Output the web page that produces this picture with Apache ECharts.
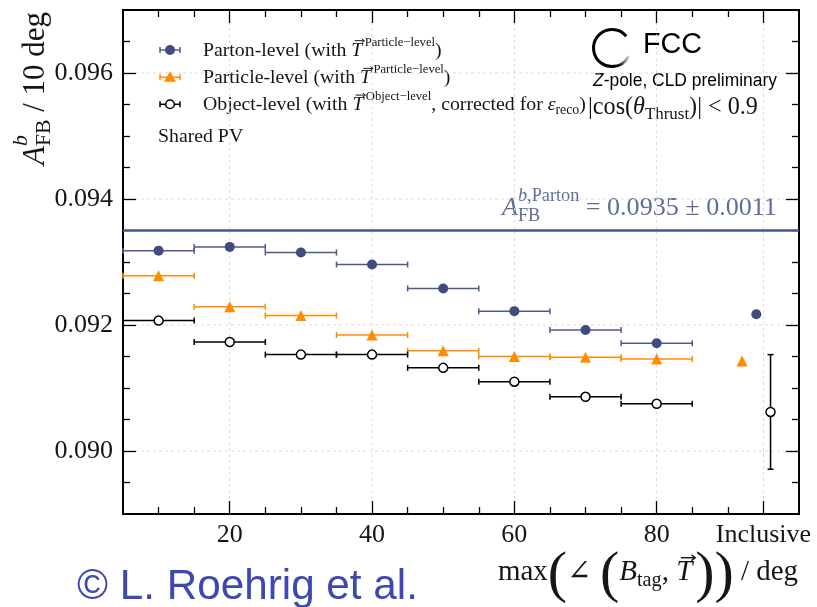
<!DOCTYPE html>
<html><head><meta charset="utf-8">
<script src="https://cdn.jsdelivr.net/npm/echarts@6/dist/echarts.min.js"></script>
<style>html,body{margin:0;padding:0;background:#fff}#c{width:817px;height:607px}</style>
</head><body><div id="c"></div>
<script>
// ---------------- data ----------------
const binCenters = [10, 20, 30, 40, 50, 60, 70, 80];
const binHalfWidths = [5, 5, 5, 5, 5, 5, 5, 5];
const partonValues = [0.09318, 0.09324, 0.09315, 0.09296, 0.09258, 0.09222, 0.09192, 0.09171];
const particleValues = [0.09278, 0.09229, 0.09215, 0.09184, 0.09159, 0.09150, 0.09149, 0.09146];
const objectValues = [0.09207, 0.09173, 0.09153, 0.09153, 0.09132, 0.09110, 0.09086, 0.09075];
// inclusive points: parton, particle, object
const inclusivePositions = [94, 92, 96];
const inclusiveValues = [0.09217, 0.09143, 0.09062];
const inclusiveErrors = [0, 0, 0.00091];
const partonReference = 0.0935;
const partonReferenceError = 0.0011;
const xMajorTicks = [20, 40, 60, 80, 95];
const xTickLabels = ['20', '40', '60', '80', 'Inclusive'];
const xMinorTicks = [10, 15, 25, 30, 35, 45, 50, 55, 65, 70, 75, 85, 90];
const yMajorTicks = [0.090, 0.092, 0.094, 0.096];
const yTickLabels = ['0.090', '0.092', '0.094', '0.096'];
const yMinorTicks = [0.0895, 0.0905, 0.091, 0.0915, 0.0925, 0.093, 0.0935, 0.0945, 0.095, 0.0955, 0.0965];
const xRange = [5, 100];
const yRange = [0.089, 0.097];

// ---------------- style ----------------
const SERIF = "'Liberation Serif','DejaVu Serif',serif";
const SANS = "'Liberation Sans','DejaVu Sans',sans-serif";
const BLUE = '#3f4c7d', BLUE_BAR = '#4d5b8b', ORANGE = '#ff8c00', BLACK = '#000';
const REF = '#4a5889', REF_TXT = '#5f6d9c', TXT = '#151515';

const mctx = document.createElement('canvas').getContext('2d');
function fontOf(p, s) { return (p.it ? 'italic ' : '') + (s * (p.r || 1)).toFixed(2) + 'px ' + (p.f || SERIF); }
function layout(pieces, s, x0, y0, color) {
  const els = []; let x = x0, saveX = x0;
  pieces.forEach(p => {
    const font = fontOf(p, s); mctx.font = font;
    const w = mctx.measureText(p.t).width;
    let endSup = null;
    if (p.mark) saveX = x;
    if (p.reset) { endSup = x; x = saveX; }
    const yy = y0 + (p.dy || 0) * s;
    const col = p.c || color;
    els.push({ type: 'text', x: x, y: yy, silent: true,
      style: { text: p.t, font: font, fill: col, align: 'left', verticalAlign: 'middle' } });
    if (p.arrow) {
      const ay = yy - 0.5 * s, a1 = x + 0.3 * w, a2 = x + w + 0.1 * s, h = 0.1 * s;
      const lw = Math.max(0.8, 0.05 * s);
      els.push({ type: 'polyline', silent: true, shape: { points: [[a1, ay], [a2, ay]] }, style: { stroke: col, lineWidth: lw, fill: null } });
      els.push({ type: 'polyline', silent: true, shape: { points: [[a2 - 1.3 * h, ay - h], [a2, ay], [a2 - 1.3 * h, ay + h]] }, style: { stroke: col, lineWidth: lw, fill: null } });
    }
    x += w + (p.gap || 0) * s;
    if (endSup !== null) x = Math.max(x, endSup);
  });
  return { els, width: x - x0 };
}
function fit(pieces, target) { return 100 * target / layout(pieces, 100, 0, 0, '#000').width; }
const K = 0.34; // middle-to-baseline ratio

const graphics = [];
function addText(pieces, xStart, baseline, target, color, xEnd) {
  const s = fit(pieces, target);
  const x = xEnd !== undefined ? xEnd - target : xStart;
  layout(pieces, s, x, baseline - K * s, color).els.forEach(e => graphics.push(e));
  return s;
}

// legend
const Tvec = { t: 'T', it: 1, arrow: 1, gap: 0.12 };
const legendRows = [
  [{ t: 'Parton-level (with ' }, Tvec, { t: 'Particle\u2212level', r: 0.64, dy: -0.42 }, { t: ')' }],
  [{ t: 'Particle-level (with ' }, Tvec, { t: 'Particle\u2212level', r: 0.64, dy: -0.42 }, { t: ')' }],
  [{ t: 'Object-level (with ' }, Tvec, { t: 'Object\u2212level', r: 0.64, dy: -0.42 }, { t: ', corrected for ' }, { t: '\u03b5', it: 1 }, { t: 'reco', r: 0.7, dy: 0.28 }, { t: ')' }]
];
const legS = fit(legendRows[2], 383);
const legBase = [57.3, 85, 111.7];
legendRows.forEach((row, i) => layout(row, legS, 203, legBase[i] - K * legS, TXT).els.forEach(e => graphics.push(e)));
layout([{ t: 'Shared PV' }], legS, 158, 143.3 - K * legS, TXT).els.forEach(e => graphics.push(e));
const legY = [50, 77.3, 104.3];
function legBar(y, col) {
  graphics.push({ type: 'line', silent: true, shape: { x1: 160, y1: y, x2: 180, y2: y }, style: { stroke: col, lineWidth: 1.5 } });
  graphics.push({ type: 'line', silent: true, shape: { x1: 160, y1: y - 3, x2: 160, y2: y + 3 }, style: { stroke: col, lineWidth: 1.5 } });
  graphics.push({ type: 'line', silent: true, shape: { x1: 180, y1: y - 3, x2: 180, y2: y + 3 }, style: { stroke: col, lineWidth: 1.5 } });
}
legBar(legY[0], BLUE_BAR);
graphics.push({ type: 'circle', silent: true, shape: { cx: 170, cy: legY[0], r: 5 }, style: { fill: BLUE } });
legBar(legY[1], ORANGE);
graphics.push({ type: 'polygon', silent: true, shape: { points: [[170, legY[1] - 6], [176, legY[1] + 4.5], [164, legY[1] + 4.5]] }, style: { fill: ORANGE } });
legBar(legY[2], BLACK);
graphics.push({ type: 'circle', silent: true, shape: { cx: 170, cy: legY[2], r: 4.3 }, style: { fill: '#fff', stroke: BLACK, lineWidth: 1.5 } });

// FCC logo
graphics.push({ type: 'arc', silent: true, shape: { cx: 612, cy: 48, r: 18.5, startAngle: Math.PI * 0.45, endAngle: Math.PI * 1.78, clockwise: true }, style: { stroke: '#000', lineWidth: 3, fill: null } });
graphics.push({ type: 'arc', silent: true, shape: { cx: 612, cy: 48, r: 18.5, startAngle: Math.PI * 0.14, endAngle: Math.PI * 0.5, clockwise: true },
  style: { stroke: new echarts.graphic.LinearGradient(630, 55, 619, 66, [{ offset: 0, color: '#f2f2f2' }, { offset: 0.5, color: '#888' }, { offset: 1, color: '#000' }], true), lineWidth: 3, fill: null } });
addText([{ t: 'FCC', f: SANS }], 643, 55, 59, '#000');
addText([{ t: 'Z', it: 1, f: SANS }, { t: '-pole, CLD preliminary', f: SANS }], 593, 87, 184, '#000');
addText([{ t: '|cos(' }, { t: '\u03b8', it: 1 }, { t: 'Thrust', r: 0.7, dy: 0.3 }, { t: ')| < 0.9' }], 588, 116, 170, TXT);

// reference annotation
addText([{ t: 'A', it: 1 }, { t: 'b', it: 1, r: 0.7, dy: -0.45, mark: 1 }, { t: ',Parton', r: 0.7, dy: -0.45 }, { t: 'FB', r: 0.7, dy: 0.3, reset: 1 },
  { t: ' = ' + partonReference.toFixed(4) + ' \u00b1 ' + partonReferenceError.toFixed(4) }], 502, 217, 275, REF_TXT);

// x title
addText([{ t: 'max' }, { t: '(', r: 2, dy: 0.12 }, { t: '\u2220 ', gap: 0.05 }, { t: '(', r: 2, dy: 0.12 }, { t: 'B', it: 1 }, { t: 'tag', r: 0.7, dy: 0.3 }, { t: ', ' },
  { t: 'T', it: 1, arrow: 1, gap: 0.1 }, { t: ')', r: 2, dy: 0.12 }, { t: ')', r: 2, dy: 0.12 }, { t: ' / deg' }], 0, 582, 300, TXT, 798);

// y title (rotated)
(function () {
  const pcs = [{ t: 'A', it: 1 }, { t: 'b', it: 1, r: 0.7, dy: -0.45, mark: 1 }, { t: 'FB', r: 0.7, dy: 0.3, reset: 1 }, { t: ' / 10 deg' }];
  const target = 153;
  const s = fit(pcs, target);
  const lay = layout(pcs, s, 0, 0, TXT);
  graphics.push({ type: 'group', x: 46 - K * s, y: 12 + target, rotation: Math.PI / 2, children: lay.els });
})();

// copyright
addText([{ t: '\u00a9 L. Roehrig et al.', f: SANS }], 77, 602, 341, '#3f48b0');

// ---------------- chart ----------------
function nearest(arr, v) { let b = 0; arr.forEach((a, i) => { if (Math.abs(a - v) < Math.abs(arr[b] - v)) b = i; }); return b; }
function xAx(position, ticks, len, labels) {
  return { type: 'value', min: xRange[0], max: xRange[1], position,
    axisLine: { show: true, onZero: false, lineStyle: { color: '#000', width: 2 } },
    axisTick: { show: true, inside: true, length: len, customValues: ticks, lineStyle: { color: '#000', width: 1.3 } },
    axisLabel: labels ? { show: true, customValues: xMajorTicks, formatter: v => xTickLabels[nearest(xMajorTicks, v)],
      fontFamily: SERIF, fontSize: 26, color: TXT, margin: 8 } : { show: false },
    splitLine: { show: false }, minorTick: { show: false } };
}
function yAx(position, ticks, len, labels) {
  return { type: 'value', min: yRange[0], max: yRange[1], position,
    axisLine: { show: true, onZero: false, lineStyle: { color: '#000', width: 2 } },
    axisTick: { show: true, inside: true, length: len, customValues: ticks, lineStyle: { color: '#000', width: 1.3 } },
    axisLabel: labels ? { show: true, customValues: yMajorTicks, formatter: v => yTickLabels[nearest(yMajorTicks, v)],
      fontFamily: SERIF, fontSize: 26, color: TXT, margin: 10 } : { show: false },
    splitLine: { show: false }, minorTick: { show: false } };
}

function fullLines(name, data, orient, style, z) {
  return { type: 'custom', name, data, z, silent: true, encode: { x: 0, y: 1 },
    renderItem(params, api) {
      const cs = params.coordSys;
      const p = api.coord([api.value(0), api.value(1)]);
      if (orient === 'h') return { type: 'line', shape: { x1: cs.x, y1: p[1], x2: cs.x + cs.width, y2: p[1] }, style };
      return { type: 'line', shape: { x1: p[0], y1: cs.y, x2: p[0], y2: cs.y + cs.height }, style };
    } };
}

function errorBars(name, data, color, z) {
  return { type: 'custom', name, data, z, silent: true, encode: { x: 0, y: 1 },
    renderItem(params, api) {
      const x = api.value(0), y = api.value(1), xe = api.value(2), ye = api.value(3);
      const st = { stroke: color, lineWidth: 1.5 }, cap = 3, ch = [];
      if (xe > 0) {
        const a = api.coord([x - xe, y]), b = api.coord([x + xe, y]);
        ch.push({ type: 'line', shape: { x1: a[0], y1: a[1], x2: b[0], y2: b[1] }, style: st });
        ch.push({ type: 'line', shape: { x1: a[0], y1: a[1] - cap, x2: a[0], y2: a[1] + cap }, style: st });
        ch.push({ type: 'line', shape: { x1: b[0], y1: b[1] - cap, x2: b[0], y2: b[1] + cap }, style: st });
      }
      if (ye > 0) {
        const a = api.coord([x, y - ye]), b = api.coord([x, y + ye]);
        ch.push({ type: 'line', shape: { x1: a[0], y1: a[1], x2: b[0], y2: b[1] }, style: st });
        ch.push({ type: 'line', shape: { x1: a[0] - cap, y1: a[1], x2: a[0] + cap, y2: a[1] }, style: st });
        ch.push({ type: 'line', shape: { x1: b[0] - cap, y1: b[1], x2: b[0] + cap, y2: b[1] }, style: st });
      }
      return { type: 'group', children: ch };
    } };
}
function barData(vals, k) {
  return binCenters.map((x, i) => [x, vals[i], binHalfWidths[i], 0]).concat([[inclusivePositions[k], inclusiveValues[k], 0, inclusiveErrors[k]]]);
}
function ptData(vals, k) {
  return binCenters.map((x, i) => [x, vals[i]]).concat([[inclusivePositions[k], inclusiveValues[k]]]);
}
const gridStyle = { stroke: '#d4d4d4', lineWidth: 0.8, lineDash: [3, 3] };

const chart = echarts.init(document.getElementById('c'));
chart.setOption({
  animation: false,
  backgroundColor: '#fff',
  grid: { left: 123, right: 18, top: 10, bottom: 93, containLabel: false, outerBoundsMode: 'none' },
  xAxis: [xAx('bottom', xMajorTicks, 13, true), xAx('bottom', xMinorTicks, 7, false), xAx('top', xMajorTicks, 13, false), xAx('top', xMinorTicks, 7, false)],
  yAxis: [yAx('left', yMajorTicks, 13, true), yAx('left', yMinorTicks, 7, false), yAx('right', yMajorTicks, 13, false), yAx('right', yMinorTicks, 7, false)],
  series: [
    fullLines('vgrid', xMajorTicks.map(v => [v, yRange[0]]), 'v', gridStyle, 0),
    fullLines('hgrid', yMajorTicks.map(v => [xRange[0], v]), 'h', gridStyle, 0),
    fullLines('reference', [[xRange[0], partonReference]], 'h', { stroke: REF, lineWidth: 2.5 }, 1),
    errorBars('partonErr', barData(partonValues, 0), BLUE_BAR, 3),
    errorBars('particleErr', barData(particleValues, 1), ORANGE, 3),
    errorBars('objectErr', barData(objectValues, 2), BLACK, 3),
    { type: 'scatter', name: 'Parton-level', data: ptData(partonValues, 0), symbol: 'circle', symbolSize: 10, z: 4, silent: true, itemStyle: { color: BLUE, opacity: 1 } },
    { type: 'scatter', name: 'Particle-level', data: ptData(particleValues, 1), symbol: 'triangle', symbolSize: 11, z: 4, silent: true, itemStyle: { color: ORANGE, opacity: 1 } },
    { type: 'scatter', name: 'Object-level', data: ptData(objectValues, 2), symbol: 'circle', symbolSize: 9, z: 4, silent: true, itemStyle: { color: '#fff', borderColor: BLACK, borderWidth: 1.5, opacity: 1 } }
  ],
  graphic: { elements: graphics }
});
</script>
</body></html>
